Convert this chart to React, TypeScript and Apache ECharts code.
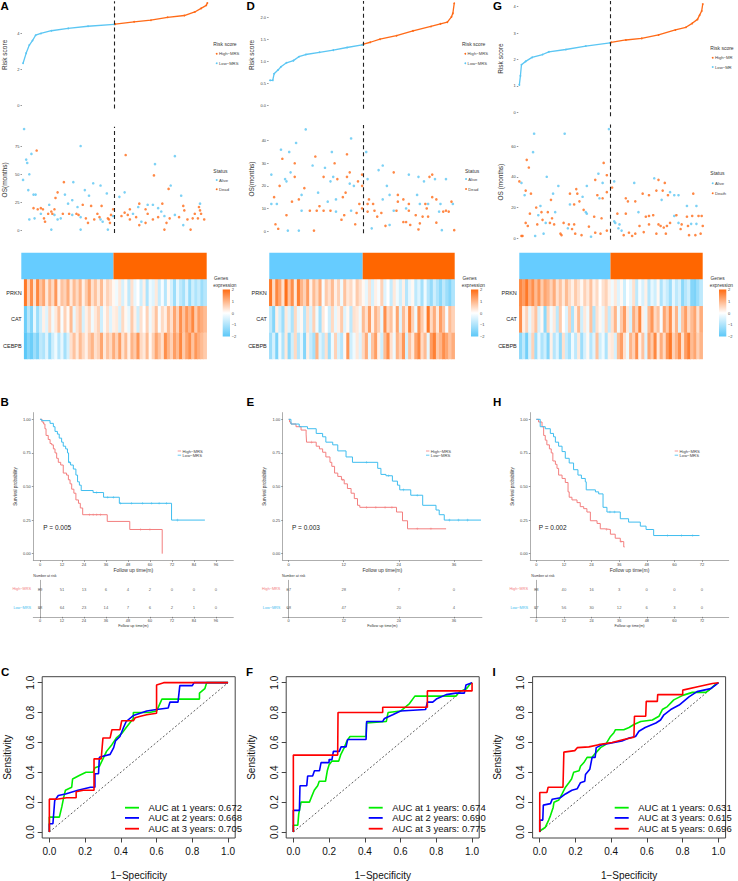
import React, { useEffect, useRef } from "react";
import * as echarts from "echarts";

const FONT = "'Liberation Sans', Arial, Helvetica, sans-serif";
const LOW_BLUE = "#5BC6F3";
const HIGH_ORANGE = "#FF6A17";
const ANN_BLUE = "#66CCFF";
const ANN_ORANGE = "#FF6600";
const KM_RED = "#F37F7F";
const KM_BLUE = "#3FBDEF";
const ROC_COLORS = ["#00EE00", "#0000FF", "#FF0000"];
const PLUS = "path://M4,0h2v4h4v2h-4v4h-2v-4h-4v-2h4z";

// ---------------- Panel A / D / G : risk score curves [rank, score] ----------------
const riskLowA = [[1, 2.33], [4, 2.9], [7, 3.35], [10, 3.6], [13, 3.9], [18, 4.0], [28, 4.15], [44, 4.28], [63, 4.4], [88, 4.5]];
const riskHighA = [[89, 4.52], [107, 4.65], [123, 4.74], [139, 4.9], [155, 5.0], [165, 5.2], [171, 5.4], [176, 5.57], [177, 5.7]];
const riskTicksA = [0, 2, 4];
const riskLowD = [[1, 0.57], [3, 0.57], [4, 0.72], [7, 0.81], [9, 0.88], [13, 0.97], [18, 1.02], [22, 1.11], [27, 1.16], [37, 1.21], [47, 1.26], [57, 1.32], [68, 1.38]];
const riskHighD = [[69, 1.4], [74, 1.44], [81, 1.51], [93, 1.59], [105, 1.7], [118, 1.8], [125, 1.86], [130, 1.9], [133, 2.02], [134, 2.1], [135, 2.33]];
const riskTicksD = [0, 0.5, 1, 1.5, 2];
const riskLowG = [[1, 1.04], [2, 1.38], [3, 1.8], [7, 1.93], [13, 2.08], [23, 2.19], [29, 2.29], [45, 2.38], [64, 2.51], [87, 2.63]];
const riskHighG = [[88, 2.65], [102, 2.74], [117, 2.8], [133, 2.93], [149, 3.12], [159, 3.22], [165, 3.37], [170, 3.52], [172, 3.68], [174, 3.84], [175, 4.1]];
const riskTicksG = [0, 1, 2, 3, 4];

// group sizes [Low, High]
const groupCountsA = [88, 89];
const groupCountsD = [68, 67];
const groupCountsG = [87, 88];

// ---------------- OS scatter [rank, months, dead(1)/alive(0)] ----------------
const osA = [
  [2, 90, 0], [4, 63, 0], [5, 60, 0], [9, 68, 0], [7, 50, 0], [1, 45, 0], [6, 36, 0], [11, 32, 0], [13, 32, 0], [56, 75, 0], [49, 43, 0], [26, 23, 0], [41, 32, 0], [44, 24, 0], [48, 27, 0], [60, 36, 0], [64, 31, 0], [68, 42, 0], [75, 40, 0], [81, 33, 0], [53, 21, 0], [93, 30, 0], [98, 34, 0], [127, 59, 0], [142, 40, 0], [146, 66, 0], [152, 31, 0], [170, 24, 0], [120, 23, 0], [125, 23, 0], [130, 20, 0], [111, 21, 0],
  [14, 71, 1], [40, 43, 1], [34, 34, 1], [32, 29, 1], [99, 67, 1], [126, 49, 1], [140, 37, 1], [134, 24, 1], [66, 22, 1], [76, 22, 1], [58, 23, 1], [112, 24, 1], [154, 22, 1], [169, 21, 1], [11, 20, 1], [15, 19, 1], [18, 20, 1], [20, 19, 1], [31, 19, 1], [87, 19, 1], [103, 19, 1], [118, 19, 1], [155, 18, 1], [170, 18, 1],
  [7, 10, 0], [12, 11, 0], [18, 15, 0], [21, 11, 1], [22, 8, 1], [25, 15, 1], [28, 17, 1], [29, 15, 1], [31, 14, 0], [34, 10, 0], [37, 11, 0], [39, 15, 1], [45, 15, 1], [48, 14, 0], [52, 15, 1], [54, 14, 1], [56, 12, 0], [61, 11, 1], [63, 7, 1], [69, 10, 1], [72, 15, 1], [74, 12, 1], [75, 10, 0], [77, 8, 0], [82, 11, 1], [83, 10, 1], [84, 7, 1], [85, 14, 1], [87, 13, 0], [95, 13, 1], [98, 16, 1], [101, 14, 1], [103, 10, 1], [106, 15, 0], [109, 12, 1], [112, 5, 1], [114, 8, 0], [118, 7, 1], [120, 15, 1], [125, 10, 1], [130, 12, 1], [133, 17, 0], [136, 13, 0], [138, 7, 1], [141, 11, 1], [146, 14, 0], [150, 12, 1], [154, 5, 0], [158, 10, 1], [161, 1, 1], [163, 11, 1], [165, 15, 1], [168, 11, 1], [171, 15, 1], [174, 10, 1], [28, 1, 0], [56, 1, 0], [82, 1, 0], [136, 1, 1],
];
const osTicksA = [0, 25, 50, 75];
const osD = [
  [27, 45, 0], [60, 41, 0], [9, 36, 0], [20, 39, 0], [15, 35, 0], [10, 32, 1], [34, 33, 1], [57, 34, 1], [46, 35, 0], [71, 35, 0],
  [2, 25, 0], [12, 23, 0], [13, 22, 0], [16, 26, 0], [19, 30, 1], [19, 24, 1], [32, 29, 0], [40, 24, 1], [41, 28, 0], [48, 30, 1], [47, 24, 0], [50, 23, 1], [45, 22, 0], [57, 24, 1], [59, 26, 1], [65, 22, 1], [68, 25, 1], [59, 21, 0], [62, 20, 0], [68, 20, 1], [80, 27, 0], [83, 29, 0], [91, 26, 1], [102, 25, 0], [109, 24, 0], [113, 22, 0], [119, 25, 1], [117, 24, 1], [121, 23, 0], [129, 23, 0], [72, 23, 0], [86, 20, 0],
  [2, 12, 0], [4, 15, 1], [6, 12, 0], [8, 20, 1], [17, 13, 1], [22, 14, 1], [24, 16, 0], [26, 19, 1], [36, 17, 0], [37, 11, 1], [43, 13, 0], [49, 14, 0], [54, 15, 1], [56, 17, 1], [66, 12, 1], [73, 14, 1], [72, 12, 1], [76, 12, 1], [83, 14, 0], [88, 16, 0], [94, 16, 1], [94, 13, 1], [98, 14, 1], [102, 12, 1], [108, 16, 0], [110, 12, 0], [114, 12, 1], [119, 15, 1], [122, 14, 1], [125, 12, 0], [133, 13, 1], [134, 12, 0], [116, 12, 0],
  [13, 7, 1], [5, 3, 1], [7, 1, 1], [14, 0.2, 0], [22, 0.2, 0], [24, 9, 0], [33, 0.2, 1], [30, 9, 1], [35, 9, 1], [40, 9, 1], [45, 9, 1], [49, 8.6, 0], [53, 5, 1], [55, 7, 1], [63, 3, 1], [64, 8, 1], [72, 8.6, 1], [75, 1.2, 0], [77, 9, 1], [79, 6.4, 1], [82, 8, 1], [85, 2.3, 1], [88, 2.7, 0], [91, 9, 0], [93, 9, 1], [98, 4, 1], [100, 4, 1], [102, 9, 1], [103, 2.7, 1], [107, 7, 1], [109, 0.7, 1], [110, 3.4, 1], [112, 6.4, 1], [116, 6.4, 1], [122, 3.7, 1], [124, 8.6, 0], [126, 0.4, 0], [127, 8.6, 1], [129, 9, 1], [131, 8.6, 1], [135, 0.4, 1], [60, 9, 0], [68, 10, 1], [100, 10, 0], [115, 10, 1],
];
const osTicksD = [0, 10, 20, 30, 40];
const osG = [
  [15, 68, 0], [44, 68, 0], [86, 71, 0], [14, 56, 0], [8, 51, 1], [10, 46, 1], [1, 37, 1], [3, 36, 0], [27, 40, 0], [81, 49, 1], [84, 41, 1], [76, 42, 0], [73, 38, 1], [80, 36, 0],
  [6, 28, 0], [7, 31, 1], [12, 29, 1], [33, 29, 0], [38, 34, 0], [31, 25, 1], [49, 29, 1], [55, 32, 1], [56, 29, 1], [58, 24, 1], [61, 27, 0], [65, 34, 0], [75, 28, 1], [77, 26, 0], [80, 26, 1], [84, 30, 1], [89, 33, 1], [91, 37, 0], [102, 26, 1], [104, 24, 1], [110, 36, 0], [111, 24, 1], [118, 29, 1], [124, 28, 1], [129, 39, 0], [131, 31, 1], [133, 38, 1], [136, 25, 0], [137, 31, 1], [139, 36, 1], [142, 28, 1], [144, 30, 0], [148, 28, 0], [152, 28, 0], [160, 21, 0], [166, 29, 1], [169, 21, 0], [21, 21, 0], [17, 20, 1], [49, 22, 0], [53, 22, 1],
  [3, 1.5, 1], [4, 1.5, 1], [7, 10, 1], [9, 8, 1], [11, 16, 1], [16, 1.5, 0], [18, 9, 1], [19, 15, 0], [22, 17, 1], [23, 12, 1], [24, 3, 0], [26, 10, 0], [28, 17, 1], [30, 10, 1], [32, 13, 1], [34, 9, 1], [35, 17, 0], [40, 3, 1], [41, 2, 1], [43, 10, 1], [47, 6.5, 0], [48, 9, 1], [51, 6, 1], [53, 9, 1], [54, 3, 1], [60, 2, 1], [62, 18.5, 1], [64, 17, 0], [65, 16, 0], [67, 7.6, 1], [69, 1, 0], [72, 14, 1], [73, 3.6, 1], [78, 3, 1], [79, 13, 1], [84, 5, 1], [91, 11, 0], [92, 10, 0], [94, 16, 1], [95, 6.5, 0], [96, 9, 0], [98, 5, 0], [100, 2, 1], [102, 16, 1], [105, 3.6, 1], [108, 1.5, 1], [111, 3, 1], [114, 17, 0], [115, 8, 1], [119, 4, 1], [121, 14, 1], [124, 9, 1], [124, 14.5, 1], [128, 15, 1], [131, 3, 1], [133, 9, 1], [135, 8, 1], [138, 7, 1], [140, 3, 1], [141, 8, 1], [144, 10, 1], [148, 14.5, 0], [150, 15, 1], [152, 10, 0], [154, 6, 1], [155, 9, 1], [160, 14, 1], [161, 8, 1], [162, 2, 1], [164, 9.4, 0], [165, 14.5, 1], [168, 2, 1], [169, 9.4, 0], [171, 14.5, 1], [173, 3, 1], [174, 14.5, 1], [175, 8, 1],
];
const osTicksG = [0, 20, 40, 60];

// ---------------- Heatmaps (z-scores, columns ordered by risk) ----------------
const prknA = [1.8, 0.6, 1.5, 0.4, 1.6, 0.8, 1.2, 0.3, 1.0, 0.5, 1.4, 0.2, 0.8, 0.6, 1.1, 0.3, 0.9, 0.5, 1.0, 0.2, 0.7, 1.2, 0.4, 0.8, 0.3, 0.9, 0.2, 0.6, 0.4, 0.1, -0.2, 0.3, -0.5, 0.1, -0.8, 0.4, -0.3, 0.0, -0.6, 0.2, -1.0, -0.2, -0.4, 0.3, -0.7, -0.1, -0.9, 0.1, -0.5, -1.2, -0.3, -0.8, -1.1, -0.4, -1.3, -0.6, -1.0, -0.7, -1.2, -0.9];
const catA = [-1.8, -0.9, -1.5, -0.3, -1.2, -0.6, 0.2, -0.4, 0.5, -0.2, 0.3, 0.8, -0.1, 0.6, 0.1, 0.9, -0.3, 0.4, 0.7, -0.5, 0.2, 0.5, -0.2, 0.3, 0.6, -0.6, 0.1, 0.4, -0.4, 0.2, 0.3, -0.5, 0.5, 0.1, -0.3, 0.7, 0.2, -0.6, 0.4, 0.0, 0.6, -0.2, 0.3, 0.8, -0.1, 0.5, 0.2, 0.9, 0.4, 1.2, 0.6, 1.5, 0.8, 1.4, 1.0, 1.6, 0.7, 1.3, 1.1, 0.9];
const cebpbA = [-2.0, -1.5, -1.8, -1.2, -1.6, -0.8, -1.0, -0.4, -1.3, -0.6, -0.2, -0.9, -0.3, -1.1, -0.5, 0.4, 0.8, 0.3, 0.9, 0.5, 0.2, 0.7, 1.0, 0.4, 0.6, 1.2, 0.3, 0.8, 0.5, 1.1, 0.6, 1.3, 0.4, 0.9, 0.2, 1.0, 0.7, 1.4, 0.5, 0.3, 0.9, 0.1, 0.6, 1.2, 0.8, 0.4, 1.5, 1.0, 0.6, 1.3, 0.9, 1.6, 0.7, 1.2, 1.5, 0.8, 1.4, 1.1, 0.9, 0.7];
const prknD = [1.8, 0.5, 1.6, 1.2, 0.4, 1.9, 0.8, 1.5, 0.3, 1.7, 1.0, 0.6, 1.3, 0.2, 0.9, 0.5, 1.1, -0.1, 0.7, 0.4, 0.9, 0.2, 0.6, -0.2, 0.8, 0.3, 0.5, 0.1, 0.7, 0.4, 0.1, -0.3, 0.4, -0.5, 0.2, -0.1, 0.6, -0.4, 0.0, -0.7, 0.3, -0.2, -0.6, 0.2, -0.9, -0.3, 0.1, -0.8, -0.4, -1.1, -0.2, -0.9, -1.3, -0.6, -1.0, -1.4, -0.8, -1.2, -1.5, -1.0];
const catD = [-0.8, -1.5, 0.2, -0.6, -1.2, 0.3, -0.4, -1.0, 0.5, -0.3, 0.1, -0.9, 0.4, -0.5, 0.6, -0.2, -1.1, 0.3, 0.0, -0.6, 0.5, -0.3, 0.2, 0.7, -0.4, 0.1, -0.8, 0.4, 0.3, -0.2, 0.9, 0.4, 1.3, 0.2, 1.0, 0.6, -0.3, 1.5, 0.5, 0.8, 0.1, 1.2, -0.4, 0.9, 0.3, 1.6, 0.6, -0.2, 1.4, 0.7, 0.2, 1.8, 0.5, 1.1, 0.3, 1.3, 0.8, -0.1, 0.9, 0.6];
const cebpbD = [-1.2, -0.5, -1.6, -0.2, -1.0, 0.3, -1.4, -0.6, 0.5, -0.9, -0.3, -1.5, 0.2, -0.7, -1.1, 1.0, -0.4, -0.8, 0.4, -1.2, -0.2, 0.6, -0.5, -0.9, 0.1, 1.4, -0.6, -0.2, 0.3, -0.4, 0.5, 1.1, -0.3, 0.8, 1.3, 0.2, -0.6, 0.9, 1.5, 0.4, -0.2, 1.0, 0.6, 1.4, -0.5, 0.8, 0.3, 1.2, 1.6, 0.5, 0.9, -0.3, 1.3, 1.7, 0.7, 1.0, 1.5, 1.2, 0.8, 1.1];
const prknG = [1.6, 1.3, 1.8, 1.1, 1.5, 0.9, 1.4, 0.7, 1.2, 1.0, 0.6, 1.1, 0.4, 0.8, 0.3, 0.9, 0.5, 0.2, 0.7, 0.4, 0.1, 0.6, 0.3, 0.8, 0.2, 0.5, 0.0, 0.4, 0.6, 0.2, -0.2, 0.3, -0.4, 0.1, -0.6, 0.0, -0.3, 0.4, -0.8, -0.1, -0.5, 0.2, -0.9, -0.3, -0.6, 0.1, -1.0, -0.4, -0.7, -1.2, -0.3, -0.8, -0.5, -1.4, -0.9, -0.6, -1.5, -1.6, -1.2, -0.8];
const catG = [1.5, 0.2, 0.6, -0.3, 0.4, 0.8, -0.5, 0.1, -1.4, 0.5, -0.2, 0.3, -0.8, 0.7, 0.0, -0.4, 0.6, -1.0, 0.2, 0.9, -0.6, 0.3, -0.2, 0.8, -0.9, 0.4, 0.1, -0.3, 0.5, -0.7, 0.4, 1.0, -0.2, 0.7, 1.3, 0.3, -0.5, 1.1, 0.6, 1.6, 0.2, -0.3, 0.9, 1.4, 0.5, 0.8, -0.1, 1.2, 0.7, 1.5, 0.3, 1.0, -0.4, 0.8, 1.3, 0.5, 0.9, 1.2, 0.4, 1.1];
const cebpbG = [-1.4, -0.8, -1.7, -0.5, 0.6, -1.2, -0.3, -1.0, -0.6, -1.5, 0.2, -0.9, -0.4, -1.3, 0.4, -0.7, -1.1, -0.2, -0.8, 0.3, -1.2, -0.5, 0.1, -0.9, -0.4, 0.8, -0.6, -0.2, -1.0, 0.2, 0.3, -0.5, 0.9, 1.3, 0.4, -0.2, 1.0, 0.6, 1.5, 0.2, 0.8, -0.4, 1.2, 0.7, 1.6, 0.3, 1.1, 0.5, 1.4, 1.8, 0.6, 1.0, 1.5, 0.4, 1.3, 1.7, 0.9, 1.2, 0.6, 1.0];
const geneNames = ["CEBPB", "CAT", "PRKN"]; // bottom to top
const geneLegendTicks = [2, 1, 0, -1, -2];

// ---------------- Kaplan-Meier [time, survival] ----------------
const kmHighB = [[0, 1], [1.1, 0.98], [2, 0.965], [2.7, 0.93], [3.3, 0.88], [4.5, 0.85], [5.5, 0.82], [6.4, 0.81], [7.3, 0.78], [8.2, 0.75], [9.1, 0.71], [10, 0.68], [11.3, 0.66], [12.7, 0.6], [14.5, 0.585], [15.5, 0.55], [16.4, 0.52], [17.3, 0.48], [18.5, 0.45], [19.6, 0.4], [21, 0.375], [22, 0.34], [23.3, 0.29], [36.7, 0.24], [49, 0.18], [66.7, 0]];
const kmLowB = [[0, 1], [0.9, 0.99], [5.5, 0.97], [7.3, 0.945], [8.2, 0.91], [9.5, 0.89], [10.5, 0.86], [11.8, 0.83], [12.7, 0.8], [14, 0.78], [15, 0.75], [15.6, 0.68], [16.7, 0.66], [18.2, 0.63], [19.6, 0.585], [20.5, 0.535], [21.5, 0.51], [22.5, 0.47], [29, 0.455], [34.7, 0.42], [43.3, 0.375], [71.8, 0.25], [90, 0.25]];
const censorHighB = [[27, 0.29], [29, 0.29], [31, 0.29], [33, 0.29], [55, 0.18], [60, 0.18]];
const censorLowB = [[16, 0.68], [31, 0.455], [37, 0.42], [40, 0.42], [44, 0.375], [50, 0.375], [56, 0.375], [61, 0.375], [65, 0.375], [69, 0.375], [75, 0.25]];
const kmTicksB = [0, 12, 24, 36, 48, 60, 72, 84, 96];
const atRiskHighB = [89, 51, 13, 6, 4, 2, 0, 0, 0];
const atRiskLowB = [88, 64, 23, 14, 7, 6, 2, 1, 0];
const pValueB = "P = 0.005";

const kmHighE = [[0, 1], [0.2, 0.98], [0.5, 0.965], [1.6, 0.945], [2.7, 0.92], [3.8, 0.89], [3.9, 0.83], [6, 0.8], [6.7, 0.78], [7.4, 0.755], [8.1, 0.72], [9, 0.68], [9.4, 0.65], [10, 0.6], [10.7, 0.575], [11.5, 0.55], [12.1, 0.52], [12.8, 0.485], [13.6, 0.45], [14.3, 0.41], [15, 0.36], [15.5, 0.345], [23.5, 0.31], [24.8, 0.245], [25.9, 0.185], [34.3, 0.185]];
const kmLowE = [[0, 1], [0.5, 0.965], [2.3, 0.945], [4.1, 0.93], [6, 0.895], [7.4, 0.87], [8.1, 0.83], [9.6, 0.81], [10.7, 0.765], [12.5, 0.72], [13.9, 0.68], [19.4, 0.635], [20.1, 0.59], [21.2, 0.58], [22.6, 0.54], [23.7, 0.51], [24.2, 0.475], [26.6, 0.435], [29.2, 0.36], [32.1, 0.325], [32.8, 0.29], [33.9, 0.25], [41.9, 0.25]];
const censorHighE = [[5, 0.83], [11.8, 0.55], [17, 0.345], [19, 0.345], [21, 0.345], [22.5, 0.345], [28, 0.185], [31, 0.185]];
const censorLowE = [[17, 0.68], [21.8, 0.58], [25, 0.475], [28, 0.435], [35, 0.25], [37, 0.25], [39, 0.25]];
const kmTicksE = [0, 12, 24, 36];
const atRiskHighE = [67, 28, 7, 0];
const atRiskLowE = [68, 47, 20, 4];
const pValueE = "P = 0.003";

const kmHighH = [[0, 1], [1, 0.98], [2.5, 0.945], [3.2, 0.88], [3.9, 0.845], [4.6, 0.81], [5.7, 0.78], [6.5, 0.75], [7.2, 0.69], [8.3, 0.665], [9, 0.635], [9.7, 0.585], [11.2, 0.56], [12.6, 0.53], [13.8, 0.46], [14.3, 0.42], [15.5, 0.4], [17.7, 0.38], [19.1, 0.35], [20.6, 0.335], [22, 0.31], [23.5, 0.245], [26.4, 0.225], [27.8, 0.185], [30, 0.18], [32.2, 0.145], [34.3, 0.115], [36.5, 0.09], [38, 0.05], [38.4, 0.05]];
const kmLowH = [[0, 1], [1.7, 0.945], [3.9, 0.93], [6.1, 0.895], [7.5, 0.87], [8.3, 0.83], [9.7, 0.8], [11.2, 0.76], [12.6, 0.71], [14.3, 0.675], [16.2, 0.625], [18.1, 0.585], [19.6, 0.56], [21.3, 0.535], [21.7, 0.475], [25.7, 0.46], [27.1, 0.445], [29, 0.345], [30.7, 0.31], [36.5, 0.26], [40.1, 0.235], [45.2, 0.205], [47.7, 0.18], [51, 0.135], [70.9, 0.135]];
const censorHighH = [[30.5, 0.18], [36.8, 0.09]];
const censorLowH = [[32, 0.31], [34, 0.31], [57, 0.135], [63, 0.135], [68, 0.135]];
const kmTicksH = [0, 12, 24, 36, 48, 60, 72];
const atRiskHighH = [88, 40, 16, 3, 0, 0, 0];
const atRiskLowH = [87, 56, 30, 12, 6, 3, 0];
const pValueH = "P = 0.002";
const kmGroups = ["High−MRS", "Low−MRS"];

// ---------------- time-dependent ROC [1-specificity, sensitivity] ----------------
const rocC1 = [[0, 0], [0, 0.1], [0.056, 0.1], [0.07, 0.17], [0.08, 0.23], [0.09, 0.28], [0.125, 0.3], [0.13, 0.355], [0.17, 0.38], [0.205, 0.4], [0.245, 0.4], [0.255, 0.43], [0.28, 0.44], [0.3, 0.49], [0.32, 0.54], [0.35, 0.585], [0.375, 0.63], [0.405, 0.66], [0.43, 0.7], [0.47, 0.76], [0.47, 0.8], [0.56, 0.8], [0.6, 0.81], [0.63, 0.89], [0.84, 0.89], [0.84, 0.93], [0.87, 0.96], [0.88, 1], [1, 1]];
const rocC2 = [[0, 0], [0, 0.055], [0.02, 0.055], [0.03, 0.21], [0.05, 0.245], [0.09, 0.255], [0.16, 0.28], [0.23, 0.3], [0.255, 0.3], [0.255, 0.39], [0.275, 0.39], [0.28, 0.5], [0.34, 0.52], [0.36, 0.565], [0.37, 0.61], [0.395, 0.64], [0.415, 0.7], [0.43, 0.74], [0.47, 0.78], [0.545, 0.81], [0.6, 0.82], [0.665, 0.83], [0.675, 0.87], [0.72, 0.87], [0.73, 0.98], [0.8, 0.98], [0.81, 1], [1, 1]];
const rocC3 = [[0, 0], [0, 0.22], [0.04, 0.22], [0.097, 0.23], [0.15, 0.23], [0.15, 0.27], [0.19, 0.28], [0.25, 0.28], [0.25, 0.49], [0.29, 0.49], [0.3, 0.63], [0.34, 0.63], [0.35, 0.685], [0.395, 0.685], [0.405, 0.745], [0.47, 0.745], [0.48, 0.765], [0.51, 0.775], [0.545, 0.785], [0.6, 0.795], [0.6, 0.985], [0.64, 1], [1, 1]];
const aucC = ["AUC at 1 years: 0.672", "AUC at 2 years: 0.668", "AUC at 3 years: 0.705"];

const rocF1 = [[0, 0], [0, 0.045], [0.025, 0.045], [0.03, 0.12], [0.043, 0.2], [0.09, 0.2], [0.1, 0.23], [0.117, 0.28], [0.136, 0.31], [0.145, 0.34], [0.18, 0.34], [0.19, 0.41], [0.2, 0.45], [0.216, 0.475], [0.254, 0.475], [0.266, 0.52], [0.285, 0.565], [0.3, 0.61], [0.317, 0.64], [0.407, 0.64], [0.41, 0.73], [0.52, 0.74], [0.53, 0.8], [0.6, 0.81], [0.62, 0.83], [0.65, 0.86], [0.68, 0.91], [0.91, 0.91], [0.93, 0.94], [0.97, 0.96], [0.985, 0.985], [1, 1]];
const rocF2 = [[0, 0], [0, 0.145], [0.034, 0.145], [0.037, 0.31], [0.075, 0.31], [0.08, 0.375], [0.108, 0.375], [0.118, 0.41], [0.146, 0.41], [0.155, 0.465], [0.2, 0.465], [0.2, 0.485], [0.216, 0.485], [0.224, 0.54], [0.257, 0.54], [0.267, 0.57], [0.295, 0.57], [0.304, 0.62], [0.407, 0.62], [0.41, 0.74], [0.5, 0.74], [0.51, 0.76], [0.556, 0.785], [0.6, 0.81], [0.74, 0.82], [0.75, 0.87], [0.78, 0.87], [0.8, 0.89], [0.855, 0.92], [0.91, 0.93], [0.957, 0.93], [0.966, 0.985], [1, 1]];
const rocF3 = [[0, 0], [0, 0.515], [0.248, 0.515], [0.25, 0.8], [0.5, 0.8], [0.5, 0.835], [0.75, 0.835], [0.75, 0.945], [1, 0.945], [1, 1]];
const aucF = ["AUC at 1 years: 0.674", "AUC at 2 years: 0.690", "AUC at 3 years: 0.775"];

const rocI1 = [[0, 0], [0.004, 0.01], [0.03, 0.03], [0.05, 0.08], [0.06, 0.11], [0.075, 0.165], [0.08, 0.2], [0.107, 0.215], [0.125, 0.255], [0.144, 0.3], [0.163, 0.33], [0.178, 0.355], [0.19, 0.4], [0.22, 0.41], [0.228, 0.44], [0.247, 0.465], [0.265, 0.5], [0.293, 0.5], [0.31, 0.525], [0.34, 0.565], [0.368, 0.585], [0.396, 0.64], [0.415, 0.665], [0.424, 0.685], [0.47, 0.685], [0.5, 0.7], [0.527, 0.72], [0.565, 0.74], [0.63, 0.75], [0.667, 0.775], [0.686, 0.82], [0.714, 0.84], [0.75, 0.885], [0.8, 0.915], [0.854, 0.935], [0.93, 0.935], [0.957, 0.96], [0.985, 0.99], [1, 1]];
const rocI2 = [[0, 0], [0, 0.08], [0.017, 0.08], [0.02, 0.18], [0.06, 0.19], [0.07, 0.22], [0.116, 0.23], [0.144, 0.255], [0.18, 0.28], [0.21, 0.29], [0.228, 0.33], [0.252, 0.34], [0.256, 0.385], [0.28, 0.42], [0.293, 0.5], [0.31, 0.5], [0.316, 0.565], [0.35, 0.585], [0.46, 0.61], [0.5, 0.63], [0.536, 0.64], [0.555, 0.675], [0.59, 0.7], [0.65, 0.73], [0.676, 0.75], [0.695, 0.785], [0.733, 0.82], [0.78, 0.85], [0.835, 0.905], [0.88, 0.94], [0.957, 0.96], [0.985, 0.985], [1, 1]];
const rocI3 = [[0, 0], [0, 0.265], [0.04, 0.265], [0.047, 0.3], [0.13, 0.3], [0.135, 0.535], [0.196, 0.545], [0.21, 0.565], [0.275, 0.57], [0.33, 0.585], [0.405, 0.6], [0.47, 0.62], [0.527, 0.635], [0.53, 0.775], [0.593, 0.775], [0.596, 0.875], [0.658, 0.875], [0.66, 0.92], [0.8, 0.92], [0.8, 0.95], [0.89, 0.975], [0.966, 0.995], [1, 1]];
const aucI = ["AUC at 1 years: 0.631", "AUC at 3 years: 0.615", "AUC at 5 years: 0.696"];
const rocTicks = [0, 0.2, 0.4, 0.6, 0.8, 1];

const PANELS = [
  { letters: ["A", "B", "C"], riskLow: riskLowA, riskHigh: riskHighA, riskTicks: riskTicksA, riskDigits: 0, os: osA, osTicks: osTicksA, osTitle: "OS(months)", riskNames: ["High−MRS", "Low−MRS"], statusNames: ["Alive", "Dead"], counts: groupCountsA, genes: [cebpbA, catA, prknA], kmHigh: kmHighB, kmLow: kmLowB, cenHigh: censorHighB, cenLow: censorLowB, kmTicks: kmTicksB, atHigh: atRiskHighB, atLow: atRiskLowB, p: pValueB, roc: [rocC1, rocC2, rocC3], auc: aucC },
  { letters: ["D", "E", "F"], riskLow: riskLowD, riskHigh: riskHighD, riskTicks: riskTicksD, riskDigits: 1, os: osD, osTicks: osTicksD, osTitle: "OS(months)", riskNames: ["High−MRS", "Low−MRS"], statusNames: ["Alive", "Dead"], counts: groupCountsD, genes: [cebpbD, catD, prknD], kmHigh: kmHighE, kmLow: kmLowE, cenHigh: censorHighE, cenLow: censorLowE, kmTicks: kmTicksE, atHigh: atRiskHighE, atLow: atRiskLowE, p: pValueE, roc: [rocF1, rocF2, rocF3], auc: aucF },
  { letters: ["G", "H", "I"], riskLow: riskLowG, riskHigh: riskHighG, riskTicks: riskTicksG, riskDigits: 0, os: osG, osTicks: osTicksG, osTitle: "OS (months)", riskNames: ["High−MR", "Low−MR"], statusNames: ["Alive", "Death"], counts: groupCountsG, genes: [cebpbG, catG, prknG], kmHigh: kmHighH, kmLow: kmLowH, cenHigh: censorHighH, cenLow: censorLowH, kmTicks: kmTicksH, atHigh: atRiskHighH, atLow: atRiskLowH, p: pValueH, roc: [rocI1, rocI2, rocI3], auc: aucI },
];

// ---------------- layout (pixels) ----------------
const LAYOUT = [
  {
    letterX: [0.5, 0.5, 1], risk: { left: 21, width: 187.4, top: 1.2, height: 107.4, ymin: -0.2, ymax: 5.8, xmax: 178 },
    os: { top: 126.8, height: 106.2, ymin: -2, ymax: 92 }, heat: { left: 21.3, width: 185.4 },
    rl: { x: 213.3, y: 44.3, dx: 216.7, items: [53.7, 63.3] }, sl: { x: 213.3, y: 170.7, dx: 216.7, items: [180, 189.3] },
    gl: { x: 214, barX: 222.7 },
    km: { left: 33.3, width: 200, xmin: -3.65, xmax: 105.5 }, p: 43.3, kl: 177.7, nar: 33.3,
    roc: { left: 42.2 }, al: 125,
  },
  {
    letterX: [246.5, 246.5, 246], risk: { left: 268.6, width: 187, top: 1.1, height: 107.7, ymin: -0.08, ymax: 2.38, xmax: 136 },
    os: { top: 124.9, height: 108.4, ymin: -1, ymax: 47 }, heat: { left: 269.3, width: 185.4 },
    rl: { x: 462, y: 44.3, dx: 465.3, items: [53.7, 63.3] }, sl: { x: 465, y: 170.7, dx: 466, items: [179, 189] },
    gl: { x: 462.5, barX: 471 },
    km: { left: 282.7, width: 199.2, xmin: -1.3, xmax: 42.1 }, p: 292, kl: 426, nar: 282,
    roc: { left: 286.2 }, al: 368.7,
  },
  {
    letterX: [493, 493, 492.5], risk: { left: 518.3, width: 185.5, top: 0.9, height: 115.4, ymin: -0.15, ymax: 4.22, xmax: 176 },
    os: { top: 124.5, height: 115.3, ymin: -1, ymax: 74 }, heat: { left: 519.3, width: 183.4 },
    rl: { x: 710.3, y: 48.3, dx: 712.7, items: [57.7, 67] }, sl: { x: 710.3, y: 173.3, dx: 712.7, items: [183.3, 193.3] },
    gl: { x: 710.5, barX: 719 },
    km: { left: 530.3, width: 198.4, xmin: -2.6, xmax: 83.6 }, p: 538.7, kl: 674.7, nar: 531.3,
    roc: { left: 532.6 }, al: 614.7,
  },
];

function buildOption() {
  const grid: any[] = [];
  const xAxis: any[] = [];
  const yAxis: any[] = [];
  const series: any[] = [];
  const graphic: any[] = [];
  const heatIdx: number[] = [];

  const add = (g: any, xa: any, ya: any) => {
    const i = grid.length;
    grid.push({ ...g, containLabel: false });
    xAxis.push({ ...xa, gridIndex: i });
    yAxis.push({ ...ya, gridIndex: i });
    return i;
  };
  const tx = (x: number, y: number, text: string, size: number, o: any = {}) => ({
    type: "text", x, y, rotation: o.rot || 0, silent: true, z: 50,
    style: {
      text, fontSize: size, fontFamily: FONT, fontWeight: o.bold ? "bold" : "normal", fill: o.fill || "#333",
      align: o.align || "left", verticalAlign: o.va || "middle", textAlign: o.align || "left", textVerticalAlign: o.va || "middle",
    },
  });
  const valAxis = (min: number, max: number, ticks: number[], fmt: (v: number) => string, o: any) => ({
    type: "value", min, max, splitLine: { show: false },
    axisLine: { show: !!o.line, onZero: false, lineStyle: { color: o.lineColor || "#888", width: o.lineWidth || 0.8 } },
    axisTick: { show: true, customValues: ticks, length: o.tickLen ?? 1.5, lineStyle: { color: o.tickColor || "#555", width: o.tickWidth || 0.6 } },
    axisLabel: { show: true, customValues: ticks, fontSize: o.fs, color: o.labelColor || "#444", margin: o.margin, fontFamily: FONT, formatter: (v: number) => fmt(v), rotate: o.rotate || 0 },
    name: o.name || "", nameLocation: "middle", nameGap: o.nameGap || 0, nameRotate: o.nameRotate || 0,
    nameTextStyle: { fontSize: o.nameFs || 6, color: o.nameColor || "#333", fontFamily: FONT },
  });

  PANELS.forEach((p, ci) => {
    const L = LAYOUT[ci];
    const split = p.counts[0] + 0.5;
    const markLine = { silent: true, symbol: "none", label: { show: false }, lineStyle: { type: [4, 3], color: "#222", width: 1.1 }, data: [{ xAxis: split }] };

    // panel letters
    graphic.push(tx(L.letterX[0], 0.3, p.letters[0], 11.5, { bold: true, va: "top", fill: "#000" }));
    graphic.push(tx(L.letterX[1], 395.9, p.letters[1], 11.5, { bold: true, va: "top", fill: "#000" }));
    graphic.push(tx(L.letterX[2], 665.9, p.letters[2], 11.5, { bold: true, va: "top", fill: "#000" }));

    // ---- risk score curve ----
    const rg = add(
      { left: L.risk.left, top: L.risk.top, width: L.risk.width, height: L.risk.height },
      { type: "value", min: 0, max: L.risk.xmax, show: false },
      valAxis(L.risk.ymin, L.risk.ymax, p.riskTicks, (v) => v.toFixed(p.riskDigits), { fs: 4, margin: 2.5, name: "Risk score", nameGap: 14, nameRotate: 90, nameFs: 6.5 })
    );
    series.push({ type: "line", xAxisIndex: rg, yAxisIndex: rg, data: p.riskLow, symbol: "circle", symbolSize: 1.8, lineStyle: { color: LOW_BLUE, width: 1.3 }, itemStyle: { color: LOW_BLUE }, markLine });
    series.push({ type: "line", xAxisIndex: rg, yAxisIndex: rg, data: p.riskHigh, symbol: "circle", symbolSize: 1.8, lineStyle: { color: HIGH_ORANGE, width: 1.3 }, itemStyle: { color: HIGH_ORANGE } });
    graphic.push(tx(L.rl.x, L.rl.y, "Risk score", 5));
    [HIGH_ORANGE, LOW_BLUE].forEach((c, k) => {
      graphic.push({ type: "circle", shape: { cx: L.rl.dx, cy: L.rl.items[k], r: 0.9 }, style: { fill: c }, silent: true });
      graphic.push(tx(L.rl.dx + 2.3, L.rl.items[k], p.riskNames[k], 4.2, { fill: "#444" }));
    });

    // ---- OS scatter ----
    const og = add(
      { left: L.risk.left, top: L.os.top, width: L.risk.width, height: L.os.height },
      { type: "value", min: 0, max: L.risk.xmax, show: false },
      valAxis(L.os.ymin, L.os.ymax, p.osTicks, (v) => String(v), { fs: 4, margin: 2.5, name: p.osTitle, nameGap: 14, nameRotate: 90, nameFs: 6.5 })
    );
    series.push({ type: "scatter", xAxisIndex: og, yAxisIndex: og, symbolSize: 2.6, itemStyle: { color: LOW_BLUE }, data: p.os.filter((d) => d[2] === 0).map((d) => [d[0], d[1]]), markLine });
    series.push({ type: "scatter", xAxisIndex: og, yAxisIndex: og, symbolSize: 2.6, itemStyle: { color: HIGH_ORANGE }, data: p.os.filter((d) => d[2] === 1).map((d) => [d[0], d[1]]) });
    graphic.push(tx(L.sl.x, L.sl.y, "Status", 5));
    [LOW_BLUE, HIGH_ORANGE].forEach((c, k) => {
      graphic.push({ type: "circle", shape: { cx: L.sl.dx, cy: L.sl.items[k], r: 0.9 }, style: { fill: c }, silent: true });
      graphic.push(tx(L.sl.dx + 2.3, L.sl.items[k], p.statusNames[k], 4.2, { fill: "#444" }));
    });

    // ---- group annotation bar ----
    const ag = add(
      { left: L.heat.left, top: 252.7, width: L.heat.width, height: 26.5 },
      { type: "value", min: 0, max: p.counts[0] + p.counts[1], show: false },
      { type: "category", data: ["group"], show: false }
    );
    series.push({ type: "bar", xAxisIndex: ag, yAxisIndex: ag, stack: "ann" + ci, barWidth: "100%", data: [p.counts[0]], itemStyle: { color: ANN_BLUE } });
    series.push({ type: "bar", xAxisIndex: ag, yAxisIndex: ag, stack: "ann" + ci, barWidth: "100%", data: [p.counts[1]], itemStyle: { color: ANN_ORANGE } });

    // ---- gene heatmap ----
    const hg = add(
      { left: L.heat.left, top: 279.2, width: L.heat.width, height: 79.8 },
      { type: "category", data: p.genes[0].map((_: number, i: number) => i), show: false },
      { type: "category", data: geneNames, axisLine: { show: false }, axisTick: { show: false }, axisLabel: { fontSize: 5.5, color: "#222", margin: 2.5, fontFamily: FONT } }
    );
    const hdata: number[][] = [];
    p.genes.forEach((row: number[], r: number) => row.forEach((v: number, c: number) => hdata.push([c, r, v])));
    heatIdx.push(series.length);
    series.push({ type: "heatmap", xAxisIndex: hg, yAxisIndex: hg, data: hdata, itemStyle: { borderWidth: 0 }, emphasis: { disabled: true } });
    // legend for gene expression
    const barTop = 289.5, barH = 47;
    graphic.push(tx(L.gl.x, 278.3, "Genes", 4.8, { fill: "#333" }));
    graphic.push(tx(L.gl.x - 0.7, 285.3, "expression", 4.8, { fill: "#333" }));
    graphic.push({
      type: "rect", shape: { x: L.gl.barX, y: barTop, width: 7.3, height: barH }, silent: true,
      style: { fill: new echarts.graphic.LinearGradient(0, 0, 0, 1, [{ offset: 0, color: "#FF6A10" }, { offset: 0.5, color: "#FFFFFF" }, { offset: 1, color: "#5CC8F8" }]) },
    });
    geneLegendTicks.forEach((v) => {
      const y = barTop + ((2 - v) / 4) * barH;
      graphic.push(tx(L.gl.barX + 9, y, v < 0 ? "−" + Math.abs(v) : String(v), 4, { fill: "#444" }));
    });

    // ---- Kaplan-Meier ----
    const kg = add(
      { left: L.km.left, top: 412.6, width: L.km.width, height: 147.8 },
      valAxis(L.km.xmin, L.km.xmax, p.kmTicks, (v) => String(v), { line: true, fs: 4, margin: 2.5, name: "Follow up time(m)", nameGap: 7, nameFs: 5, lineColor: "#999" }),
      valAxis(-0.05, 1.05, [0, 0.25, 0.5, 0.75, 1], (v) => v.toFixed(2), { line: true, fs: 4, margin: 2.5, name: "Survival probability", nameGap: 15.5, nameRotate: 90, nameFs: 4.6, lineColor: "#999" })
    );
    series.push({ type: "line", xAxisIndex: kg, yAxisIndex: kg, step: "end", data: p.kmHigh, symbol: "none", lineStyle: { color: KM_RED, width: 1 } });
    series.push({ type: "line", xAxisIndex: kg, yAxisIndex: kg, step: "end", data: p.kmLow, symbol: "none", lineStyle: { color: KM_BLUE, width: 1 } });
    series.push({ type: "scatter", xAxisIndex: kg, yAxisIndex: kg, symbol: PLUS, symbolSize: 2.6, data: p.cenHigh, itemStyle: { color: KM_RED } });
    series.push({ type: "scatter", xAxisIndex: kg, yAxisIndex: kg, symbol: PLUS, symbolSize: 2.6, data: p.cenLow, itemStyle: { color: KM_BLUE } });
    graphic.push(tx(L.p, 527.5, p.p, 6.5, { fill: "#222" }));
    [KM_RED, KM_BLUE].forEach((c, k) => {
      const y = 451 + k * 4.2;
      graphic.push({ type: "line", shape: { x1: L.kl, y1: y, x2: L.kl + 3.4, y2: y }, style: { stroke: c, lineWidth: 0.8 }, silent: true });
      graphic.push(tx(L.kl + 4.8, y, kmGroups[k], 4.2, { fill: "#444" }));
    });

    // ---- number at risk table ----
    graphic.push(tx(L.nar, 575.7, "Number at risk", 3.6, { fill: "#333" }));
    const tg = add(
      { left: L.km.left, top: 580.3, width: L.km.width, height: 36.6 },
      valAxis(L.km.xmin, L.km.xmax, p.kmTicks, (v) => String(v), { line: true, fs: 3.8, margin: 2.3, name: "Follow up time(m)", nameGap: 7, nameFs: 3.8, lineColor: "#999" }),
      {
        type: "category", data: [kmGroups[1], kmGroups[0]],
        axisLine: { show: true, lineStyle: { color: "#999", width: 0.8 } }, axisTick: { show: true, length: 1.5, alignWithLabel: true, lineStyle: { color: "#777", width: 0.5 } },
        axisLabel: {
          fontSize: 3.8, margin: 2.3, fontFamily: FONT,
          formatter: (v: string) => (v === kmGroups[0] ? "{h|" + v + "}" : "{l|" + v + "}"),
          rich: { h: { color: KM_RED, fontSize: 3.8, fontFamily: FONT }, l: { color: KM_BLUE, fontSize: 3.8, fontFamily: FONT } },
        },
      }
    );
    const tableLabel = { show: true, position: "inside", fontSize: 4.2, color: "#333", fontFamily: FONT, formatter: (q: any) => String(q.value[2]) };
    series.push({ type: "scatter", xAxisIndex: tg, yAxisIndex: tg, symbolSize: 1, itemStyle: { color: "rgba(0,0,0,0)" }, label: tableLabel, data: p.kmTicks.map((t: number, i: number) => [t, kmGroups[0], p.atHigh[i]]) });
    series.push({ type: "scatter", xAxisIndex: tg, yAxisIndex: tg, symbolSize: 1, itemStyle: { color: "rgba(0,0,0,0)" }, label: tableLabel, data: p.kmTicks.map((t: number, i: number) => [t, kmGroups[1], p.atLow[i]]) });

    // ---- ROC ----
    const og2 = add(
      { left: L.roc.left, top: 676.7, width: 193, height: 162.6, show: true, borderColor: "#444", borderWidth: 1, backgroundColor: "transparent" },
      valAxis(-0.04, 1.04, rocTicks, (v) => v.toFixed(1), { fs: 10, margin: 8, tickLen: 4.5, tickColor: "#444", tickWidth: 1, labelColor: "#111", name: "1−Specificity", nameGap: 32, nameFs: 10, nameColor: "#111" }),
      valAxis(-0.04, 1.04, rocTicks, (v) => v.toFixed(1), { fs: 10, margin: 7, tickLen: 4.5, tickColor: "#444", tickWidth: 1, labelColor: "#111", rotate: 90, name: "Sensitivity", nameGap: 30, nameRotate: 90, nameFs: 10, nameColor: "#111" })
    );
    series.push({ type: "line", xAxisIndex: og2, yAxisIndex: og2, data: [[0, 0], [1, 1]], symbol: "none", lineStyle: { color: "#333", width: 0.8, type: [2, 2] } });
    p.roc.forEach((d: number[][], k: number) => {
      series.push({ type: "line", xAxisIndex: og2, yAxisIndex: og2, data: d, symbol: "none", lineStyle: { color: ROC_COLORS[k], width: 1.6 } });
    });
    [807.7, 817.9, 828.7].forEach((y, k) => {
      graphic.push({ type: "line", shape: { x1: L.al, y1: y, x2: L.al + 14, y2: y }, style: { stroke: ROC_COLORS[k], lineWidth: 1.8 }, silent: true, z: 50 });
      graphic.push(tx(L.al + 23.5, y, p.auc[k], 9.5, { fill: "#111" }));
    });
  });

  return {
    animation: false,
    backgroundColor: "#ffffff",
    textStyle: { fontFamily: FONT },
    grid, xAxis, yAxis, series, graphic,
    visualMap: [{ type: "continuous", min: -2, max: 2, show: false, seriesIndex: heatIdx, inRange: { color: ["#5CC8F8", "#FFFFFF", "#FF6A10"] } }],
  };
}

export default function App() {
  const ref = useRef<HTMLDivElement>(null);
  useEffect(() => {
    if (!ref.current) return;
    const chart = echarts.init(ref.current, null, { renderer: "svg" });
    chart.setOption(buildOption() as any);
    return () => chart.dispose();
  }, []);
  return <div ref={ref} style={{ position: "absolute", left: 0, top: 0, width: 738, height: 881, background: "#fff" }} />;
}
